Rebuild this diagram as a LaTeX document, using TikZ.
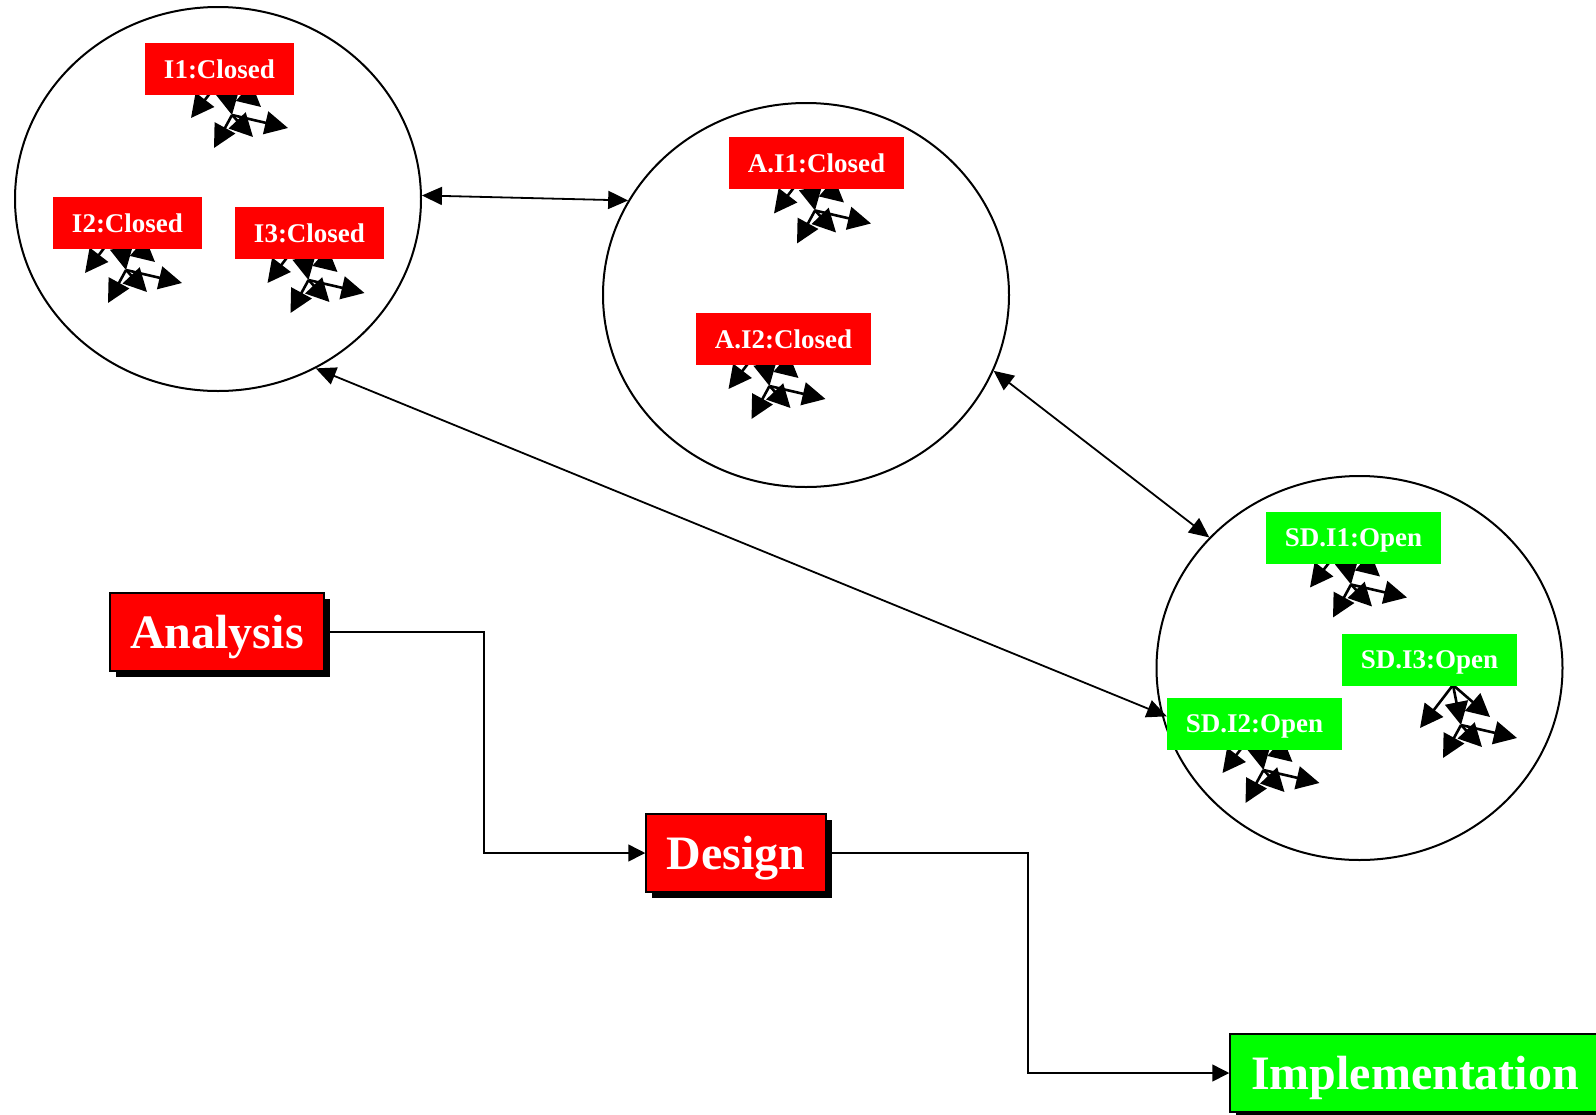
\documentclass[tikz,border=0pt]{standalone}
\usepackage{fontspec}
\setmainfont{Liberation Serif}
\usetikzlibrary{arrows.meta,shapes.geometric,shadows}

\tikzset{
  treearrow/.style={line width=2.6pt, -{Triangle[length=23pt,width=23pt]}},
  objtree/.pic={
    \draw[treearrow] (0,0) -- (-33,43);
    \draw[treearrow] (0,0) -- (8,40);
    \draw[treearrow] (0,0) -- (37,32);
    \draw[treearrow] (8,40) -- (-10,73);
    \draw[treearrow] (8,40) -- (29,62);
    \draw[treearrow] (8,40) -- (64,53);
  },
  group/.style={ellipse, draw=black, line width=2pt, minimum width=406pt, minimum height=384pt, inner sep=0pt},
  inst/.style={text=white, font=\fontsize{27}{30}\selectfont\bfseries, minimum height=52pt, inner sep=0pt, text depth=0pt},
  closed/.style={inst, fill=red, minimum width=149pt},
  closedwide/.style={inst, fill=red, minimum width=175pt},
  open/.style={inst, fill=green, minimum width=175pt},
  phase/.style={draw=black, line width=1.5pt, text=white,
    font=\fontsize{48}{52}\selectfont\bfseries, minimum height=78pt, inner sep=0pt, text depth=0pt,
    drop shadow={shadow xshift=6pt, shadow yshift=-6pt, fill=black, opacity=1}},
  link/.style={line width=1.8pt, {Triangle[length=20pt,width=18pt]}-{Triangle[length=20pt,width=18pt]}},
  flow/.style={line width=1.5pt, -{Triangle[length=17pt,width=17pt]}}
}

\begin{document}
\begin{tikzpicture}[x=1pt,y=-1pt]
\useasboundingbox (0,0) rectangle (1596,1114);

% groups of instances
\node[group] (c1) at (218,199) {};
\node[group] (c2) at (806,295) {};
\node[group] (c3) at (1359.5,668) {};

% object trees under each instance
\pic at (224,75) {objtree};
\pic at (118,230) {objtree};
\pic at (300.5,240) {objtree};
\pic at (807,170.5) {objtree};
\pic at (761.5,346) {objtree};
\pic at (1343,544.5) {objtree};
\pic at (1255.5,730) {objtree};
\pic at (1453,685) {objtree};

% instance labels
\node[closed] (i1) at (219.5,69) {I1:Closed};
\node[closed] (i2) at (127.5,223) {I2:Closed};
\node[closed] (i3) at (309.5,233) {I3:Closed};
\node[closedwide] (ai1) at (816.5,163) {A.I1:Closed};
\node[closedwide] (ai2) at (783.5,339) {A.I2:Closed};
\node[open] (sd1) at (1353.5,538) {SD.I1:Open};
\node[open] (sd3) at (1429.5,660) {SD.I3:Open};
\node[open] (sd2) at (1254.5,724) {SD.I2:Open};

% links between groups
\draw[link] (c1.1) -- (c2.152);
\draw[link] (c2.-22) -- (c3.139);
\draw[link] (c1.-60) -- (sd2.175);

% phases
\node[phase, fill=red, minimum width=214pt] (an) at (217,632) {Analysis};
\node[phase, fill=red, minimum width=180pt] (de) at (736,853) {Design};
\node[phase, fill=green, minimum width=370pt] (im) at (1415,1073) {Implementation};

\coordinate (b1) at (484,632);
\coordinate (b2) at (1028,853);
\draw[flow] (an.east) -- (b1) |- (de.west);
\draw[flow] (de.east) -- (b2) |- (im.west);
\end{tikzpicture}
\end{document}
